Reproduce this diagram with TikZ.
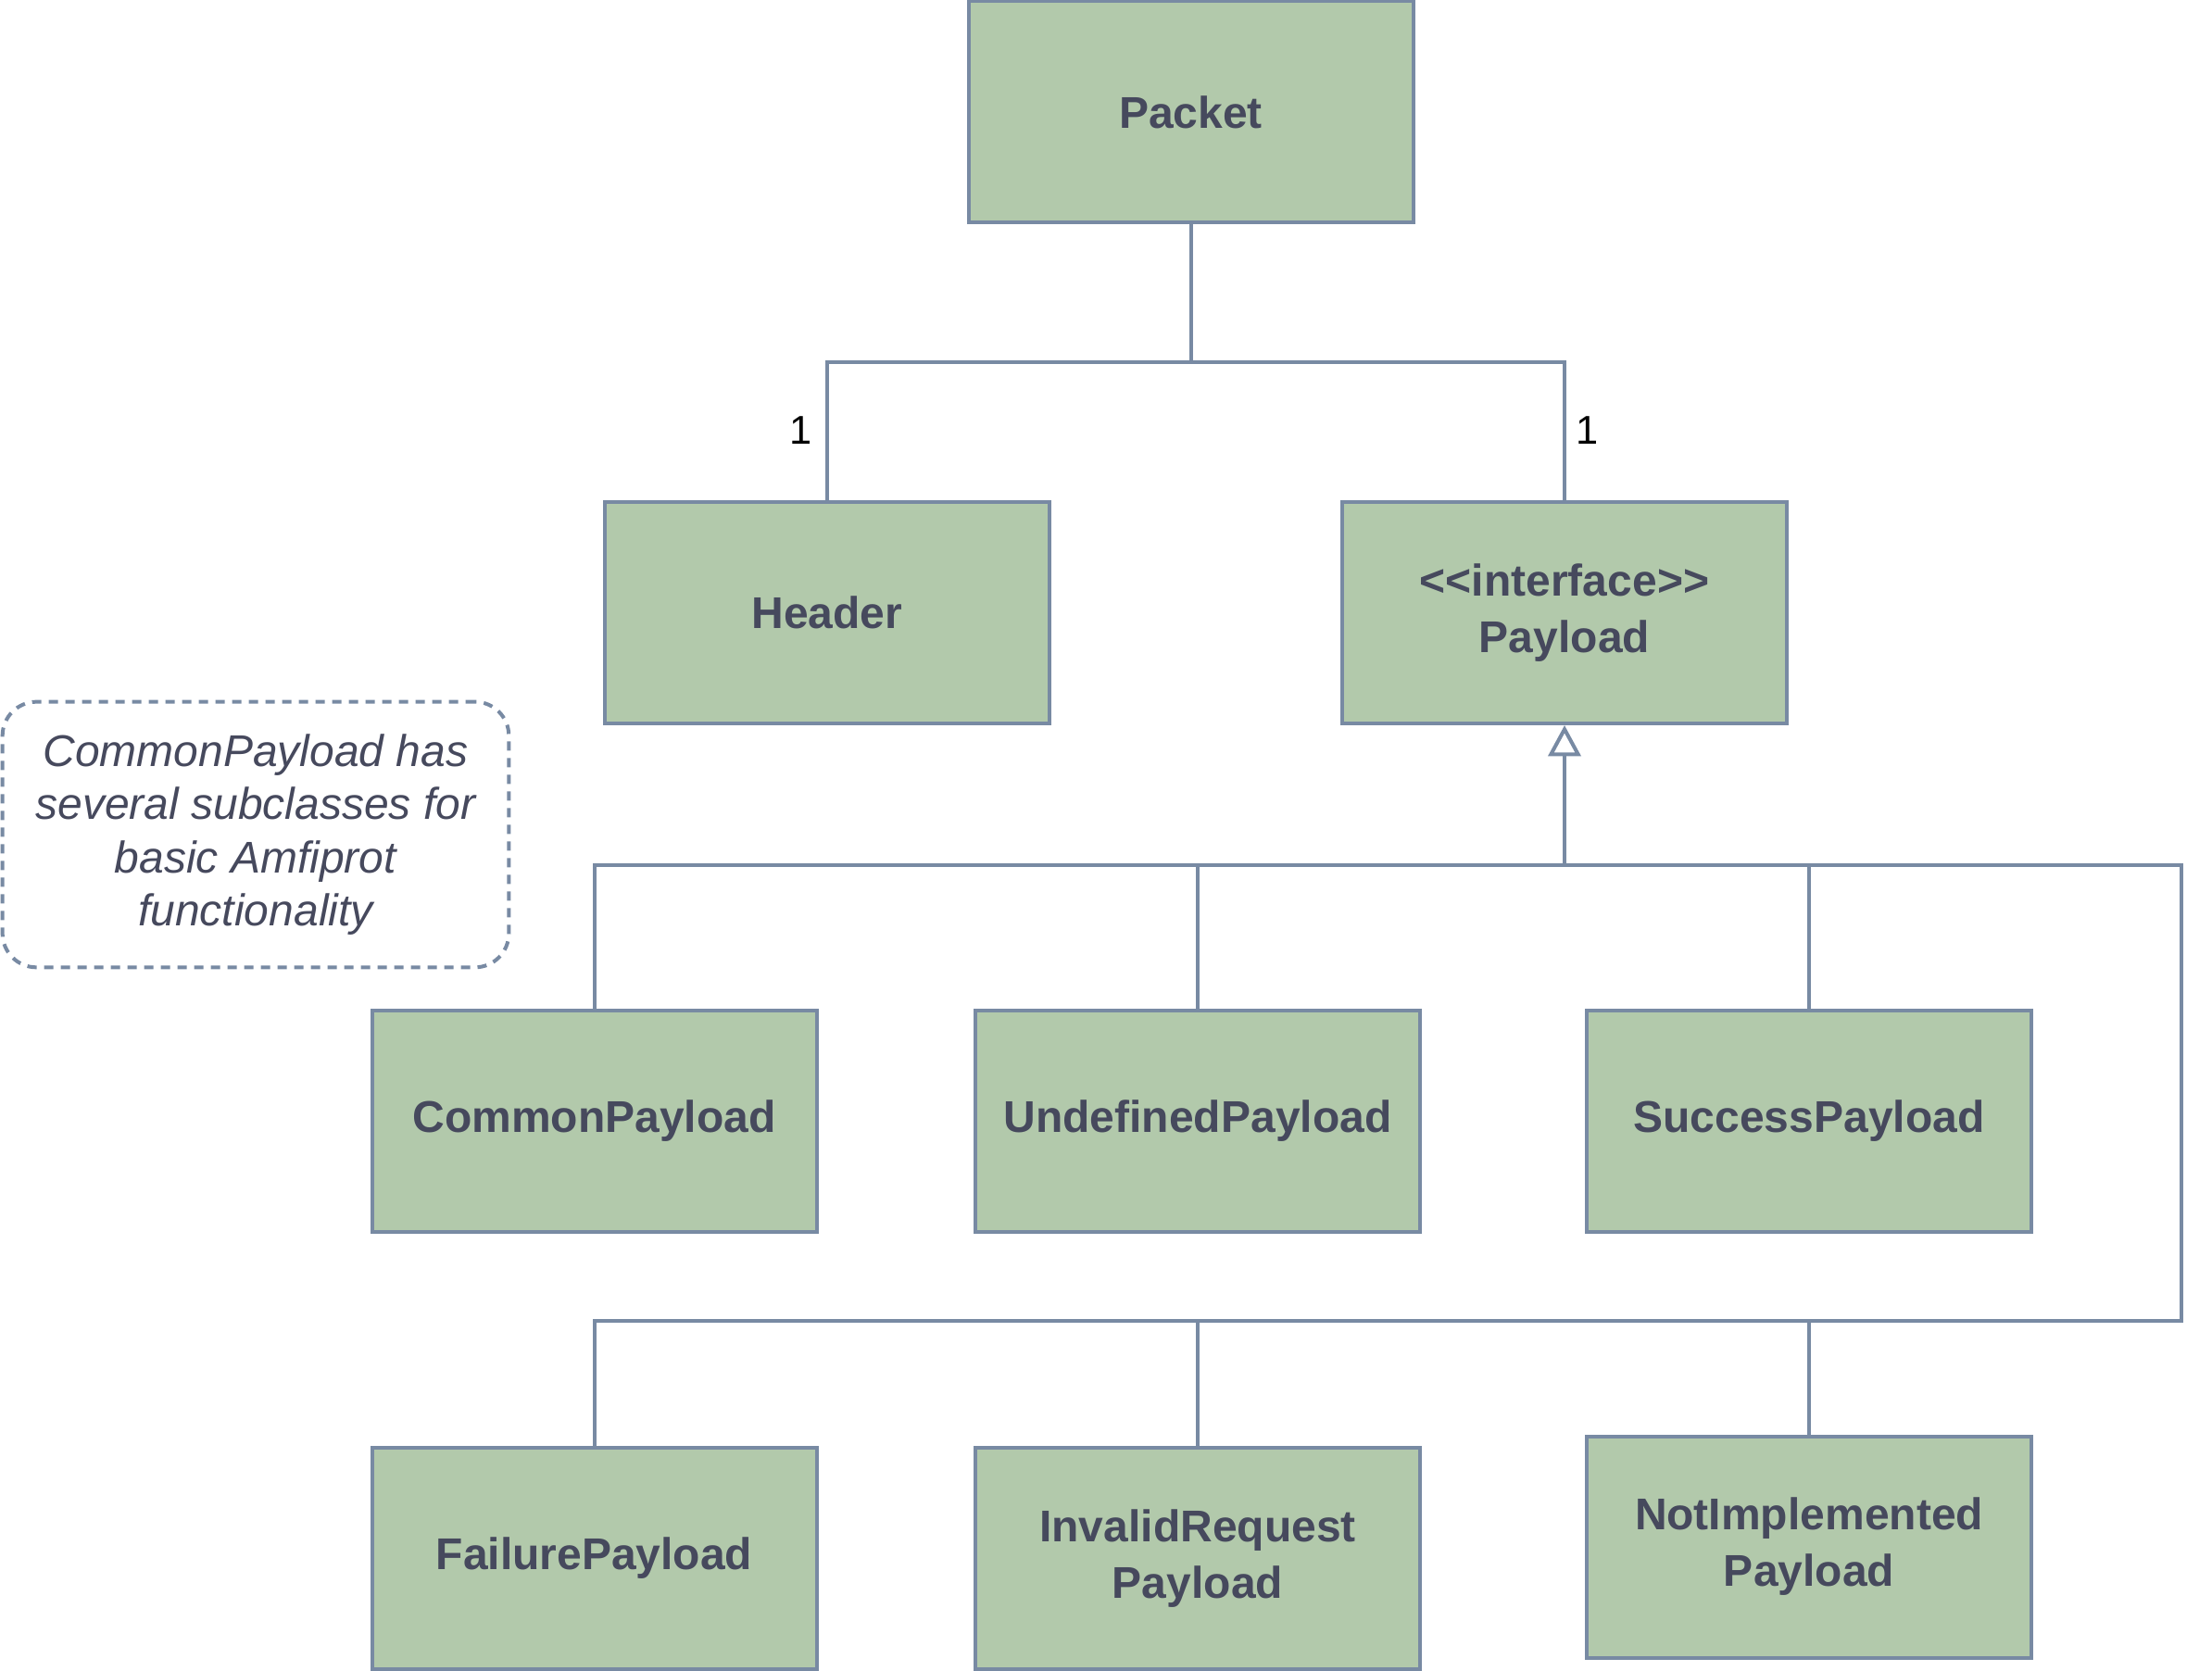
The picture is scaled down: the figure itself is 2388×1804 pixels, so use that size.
\documentclass[tikz,border=0pt]{standalone}
\usepackage{fontspec}
\setmainfont{Liberation Sans}
\usetikzlibrary{arrows.meta,positioning}

\definecolor{boxfill}{HTML}{B2C9AB}
\definecolor{boxline}{HTML}{788AA3}
\definecolor{boxtext}{HTML}{46495D}

\begin{document}
\begin{tikzpicture}[
  x=0.3pt,y=-0.3pt,
  cls/.style={draw=boxline,line width=1.2pt,fill=boxfill,text=boxtext,
              minimum width=144pt,minimum height=71.7pt,align=center,
              font=\fontsize{14.4}{18.3}\selectfont\bfseries},
  note/.style={draw=boxline,line width=1.2pt,dash pattern=on 3pt off 2.4pt,
               rounded corners=11pt,minimum width=164pt,minimum height=86pt,
               align=center,text=boxtext,
               font=\fontsize{14.4}{17.2}\selectfont\itshape},
  mult/.style={font=\fontsize{13}{15}\selectfont,text=black},
  conn/.style={draw=boxline,line width=1.2pt},
  inherit/.style={conn,-{Triangle[open,length=10pt,width=10.5pt,fill=white]}}
]
\useasboundingbox (0,0) rectangle (2388,1804);

\node[cls] (pk) at (1285.5,121) {Packet};
\node[cls] (hd) at (893,661.5) {Header};
\node[cls] (pl) at (1689,661.5) {<\kern0pt<interface>\kern0pt>\\Payload};

\node[cls] (cp) at (641.5,1210) {CommonPayload};
\node[cls] (up) at (1293,1210) {UndefinedPayload};
\node[cls] (sp) at (1953,1210) {SuccessPayload};

\node[cls] (fp) at (641.5,1682.5) {FailurePayload};
\node[cls] (ip) at (1293,1682.5) {InvalidRequest\\Payload};
\node[cls] (np) at (1953,1670) {NotImplemented\\Payload};

% note on the left
\node[note] (nt) at (276,901) {CommonPayload has\\several subclasses for\\basic Amfiprot\\functionality};

% composition
\coordinate (top) at (1285.5,391);
\draw[conn] (pk.south) -- (top);
\draw[conn] (hd.north) |- (top) -| (pl.north);
\node[mult] (m1) at (865,465) {1};
\node[mult] (m2) at (1714,465) {1};

% inheritance
\coordinate (inh) at (1689,934);
\coordinate (rt) at (2355,934);
\coordinate (rb) at (2355,1426);
\draw[inherit] (inh) -- (pl.south);
\draw[conn] (cp.north) |- (inh) -| (sp.north);
\draw[conn] (up.north) -- (up.north |- inh);
\draw[conn] (inh) -- (rt) -- (rb) -| (fp.north);
\draw[conn] (ip.north) -- (ip.north |- rb);
\draw[conn] (np.north) -- (np.north |- rb);

\end{tikzpicture}
\end{document}
